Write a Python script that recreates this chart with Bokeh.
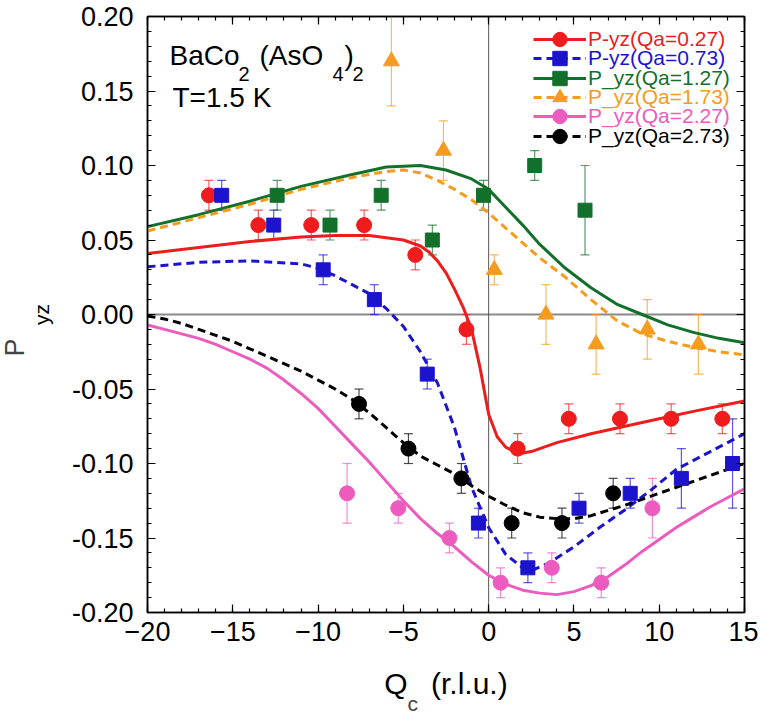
from bokeh.plotting import figure
from bokeh.models import (ColumnDataSource, Range1d, FixedTicker, NumeralTickFormatter,
                          LinearAxis, CustomJSTickFormatter, Span, Whisker, TeeHead,
                          Legend, LegendItem, Label, Title)
from bokeh.embed import file_html
from bokeh.resources import INLINE

FONT = "Liberation Sans"

# ---------------- data ----------------
# measured points (Qc, P_yz, error)
q027_x = [-16.4, -13.5, -10.4, -7.3, -4.3, -1.3, 1.7, 4.7, 7.7, 10.7, 13.7]
q027_y = [0.08, 0.06, 0.06, 0.06, 0.04, -0.01, -0.09, -0.07, -0.07, -0.07, -0.07]
q027_e = [0.01] * 11

q073_x = [-15.65, -12.6, -9.7, -6.7, -3.6, -0.6, 2.3, 5.3, 8.3, 11.3, 14.3]
q073_y = [0.08, 0.06, 0.03, 0.01, -0.04, -0.14, -0.17, -0.13, -0.12, -0.11, -0.10]
q073_e = [0.01, 0.01, 0.01, 0.01, 0.01, 0.01, 0.01, 0.01, 0.01, 0.02, 0.03]

q127_x = [-12.4, -9.3, -6.3, -3.3, -0.3, 2.7, 5.65]
q127_y = [0.08, 0.06, 0.08, 0.05, 0.08, 0.10, 0.07]
q127_e = [0.01, 0.01, 0.01, 0.01, 0.01, 0.01, 0.03]

q173_x = [-5.7, -2.65, 0.33, 3.36, 6.3, 9.3, 12.3]
q173_y = [0.17, 0.11, 0.03, 0.00, -0.02, -0.01, -0.02]
q173_e = [0.03, 0.02, 0.01, 0.02, 0.02, 0.02, 0.02]

q227_x = [-8.3, -5.3, -2.3, 0.7, 3.7, 6.6, 9.6]
q227_y = [-0.12, -0.13, -0.15, -0.18, -0.17, -0.18, -0.13]
q227_e = [0.02, 0.01, 0.01, 0.01, 0.01, 0.01, 0.02]

q273_x = [-7.6, -4.7, -1.6, 1.35, 4.3, 7.3]
q273_y = [-0.06, -0.09, -0.11, -0.14, -0.14, -0.12]
q273_e = [0.01] * 6

# model curves
c027_x = [-20, -17, -14, -11, -9, -7, -5, -4, -3.5, -3, -2.5, -2, -1.5, -1, -0.5, 0, 0.5, 1, 1.5, 2, 2.5,
          3, 4, 6, 8, 10, 12, 15]
c027_y = [0.041, 0.045, 0.049, 0.052, 0.053, 0.053, 0.050, 0.046, 0.042, 0.036, 0.028, 0.017, 0.005, -0.010,
          -0.036, -0.067, -0.082, -0.089, -0.092, -0.093, -0.092, -0.090, -0.086, -0.080, -0.075, -0.070,
          -0.065, -0.058]

c073_x = [-20, -17, -14, -11, -10, -9, -8, -7, -6, -5, -4, -3, -2, -1, 0, 1, 2, 2.5, 3.5, 5, 6.5, 8, 9.5,
          11, 13, 15]
c073_y = [0.032, 0.035, 0.036, 0.034, 0.031, 0.026, 0.020, 0.014, 0.004, -0.008, -0.025, -0.046, -0.076,
          -0.116, -0.143, -0.161, -0.170, -0.172, -0.167, -0.156, -0.143, -0.131, -0.118, -0.104, -0.092, -0.080]

c127_x = [-20, -17, -14, -11, -8, -6, -4, -2.5, -1, 0, 1, 2, 3, 4.5, 6, 7.5, 9, 10.5, 12, 13.5, 15]
c127_y = [0.059, 0.067, 0.076, 0.086, 0.094, 0.099, 0.100, 0.097, 0.091, 0.084, 0.072, 0.060, 0.047, 0.031,
          0.018, 0.007, 0.000, -0.007, -0.012, -0.016, -0.019]

c173_x = [-20, -17, -14, -11, -8, -6, -5, -4, -3, -2, -1, 0, 1, 2, 3, 4.5, 6, 7.5, 9, 10.5, 12, 13.5, 15]
c173_y = [0.056, 0.065, 0.074, 0.084, 0.092, 0.096, 0.097, 0.095, 0.090, 0.084, 0.077, 0.068, 0.058, 0.048,
          0.038, 0.025, 0.010, -0.004, -0.013, -0.018, -0.022, -0.025, -0.027]

c227_x = [-20, -19, -18, -17, -16, -15, -14, -13, -12, -11, -10, -9, -8, -7, -6, -5, -4, -3, -2, -1, 0,
          1, 2, 3, 4, 5, 6, 7, 8, 9, 10, 11, 12, 13, 14, 15]
c227_y = [-0.007, -0.010, -0.013, -0.016, -0.020, -0.025, -0.030, -0.036, -0.044, -0.053, -0.063, -0.075,
          -0.087, -0.099, -0.112, -0.125, -0.137, -0.147, -0.156, -0.166, -0.175, -0.181, -0.185, -0.187,
          -0.188, -0.186, -0.182, -0.176, -0.168, -0.159, -0.151, -0.143, -0.136, -0.129, -0.123, -0.117]

c273_x = [-20, -19, -18, -17, -16, -15, -14, -13, -12, -11, -10, -9, -8, -7, -6, -5, -4, -3, -2, -1, 0,
          1, 2, 3, 4, 5, 6, 8, 10, 12, 15]
c273_y = [-0.001, -0.003, -0.006, -0.010, -0.014, -0.018, -0.023, -0.028, -0.033, -0.038, -0.044, -0.050,
          -0.057, -0.066, -0.076, -0.086, -0.095, -0.101, -0.107, -0.115, -0.122, -0.128, -0.133, -0.136,
          -0.137, -0.137, -0.135, -0.128, -0.120, -0.112, -0.100]

labels = ["P-yz(Qa=0.27)", "P-yz(Qa=0.73)", "P_yz(Qa=1.27)", "P_yz(Qa=1.73)", "P_yz(Qa=2.27)", "P_yz(Qa=2.73)"]
colors = ["#ee1c1c", "#1c14cc", "#13702b", "#f59c1e", "#ec5cbf", "#000000"]
markers = ["circle", "square", "square", "triangle", "circle", "circle"]
dashes = ["solid", "dashed", "solid", "dashed", "solid", "dashed"]

x_ticks = [-20, -15, -10, -5, 0, 5, 10, 15]
y_ticks = [-0.20, -0.15, -0.10, -0.05, 0.00, 0.05, 0.10, 0.15, 0.20]
x_minor = list(range(-20, 16))
y_minor = [round(-0.2 + 0.01 * i, 2) for i in range(41)]

series = [
    (q027_x, q027_y, q027_e, c027_x, c027_y),
    (q073_x, q073_y, q073_e, c073_x, c073_y),
    (q127_x, q127_y, q127_e, c127_x, c127_y),
    (q173_x, q173_y, q173_e, c173_x, c173_y),
    (q227_x, q227_y, q227_e, c227_x, c227_y),
    (q273_x, q273_y, q273_e, c273_x, c273_y),
]

# ---------------- figure ----------------
p = figure(width=758, height=714, output_backend="svg", toolbar_location=None,
           x_range=Range1d(-20, 15), y_range=Range1d(-0.2, 0.2),
           min_border_left=145, min_border_right=14, min_border_top=16, min_border_bottom=102)
p.xgrid.visible = False
p.ygrid.visible = False
p.outline_line_color = "black"
p.outline_line_width = 1.5
p.background_fill_color = "white"
p.border_fill_color = "white"

for ax in (p.xaxis[0], p.yaxis[0]):
    ax.major_tick_in = 8
    ax.major_tick_out = 0
    ax.minor_tick_in = 4
    ax.minor_tick_out = 0
    ax.axis_line_width = 1.5
    ax.major_tick_line_width = 1.2
    ax.minor_tick_line_width = 1.2
    ax.major_label_text_font = FONT
    ax.major_label_text_font_size = "27px"
    ax.major_label_text_color = "black"
    ax.axis_label_text_font = FONT
    ax.axis_label_text_font_style = "normal"
    ax.axis_label_text_color = "black"

p.xaxis[0].ticker = FixedTicker(ticks=x_ticks, minor_ticks=x_minor)
p.yaxis[0].ticker = FixedTicker(ticks=y_ticks, minor_ticks=y_minor)
p.yaxis[0].formatter = NumeralTickFormatter(format="0.00")
p.xaxis[0].major_label_standoff = 9
p.yaxis[0].major_label_standoff = 14

# x-axis label "Q   (r.l.u.)" + subscript "c" as a title underneath
p.xaxis[0].axis_label = "Q\u2002\u00a0(r.l.u.)"
p.xaxis[0].axis_label_text_font_size = "30px"
p.xaxis[0].axis_label_standoff = 23
p.add_layout(Title(text="c", align="left", offset=260, vertical_align="middle",
                   text_font=FONT, text_font_size="21px", text_font_style="normal",
                   standoff=-23), "below")

# y-axis label: subscript "yz" as the axis label, "P" as a title further out
p.yaxis[0].axis_label = "yz"
p.yaxis[0].axis_label_text_font_size = "21px"
p.yaxis[0].axis_label_standoff = 16
p.add_layout(Title(text="P", align="left", offset=256, vertical_align="bottom",
                   text_font=FONT, text_font_size="27px", text_font_style="normal",
                   standoff=-6), "left")

blank = CustomJSTickFormatter(code="return ''")
for side, tk in (("above", FixedTicker(ticks=x_ticks, minor_ticks=x_minor)),
                 ("right", FixedTicker(ticks=y_ticks, minor_ticks=y_minor))):
    ax = LinearAxis(ticker=tk, formatter=blank,
                    major_tick_in=8, major_tick_out=0, minor_tick_in=4, minor_tick_out=0,
                    major_label_standoff=0, major_label_text_font_size="1px",
                    axis_line_width=1.5, major_tick_line_width=1.2, minor_tick_line_width=1.2)
    p.add_layout(ax, side)

# zero lines
p.add_layout(Span(location=0, dimension="width", line_color="#8a8a8a", line_width=1.8, level="underlay"))
p.add_layout(Span(location=0, dimension="height", line_color="#555555", line_width=1.0, level="underlay"))

line_renderers = []
for (qx, qy, qe, cx, cy), col, dash in zip(series, colors, dashes):
    r = p.line(cx, cy, line_color=col, line_width=3, line_dash=("8 5" if dash == "dashed" else "solid"))
    line_renderers.append(r)

scatter_renderers = []
for (qx, qy, qe, cx, cy), col, mk in zip(series, colors, markers):
    src = ColumnDataSource(dict(x=qx, y=qy,
                                lo=[a - b for a, b in zip(qy, qe)],
                                hi=[a + b for a, b in zip(qy, qe)]))
    w = Whisker(source=src, base="x", lower="lo", upper="hi", dimension="height",
                line_color=col, line_width=1.2, line_alpha=0.7,
                upper_head=TeeHead(size=9, line_color=col, line_width=1.2, line_alpha=0.7),
                lower_head=TeeHead(size=9, line_color=col, line_width=1.2, line_alpha=0.7))
    p.add_layout(w)
    size = 16 if mk == "triangle" else (15 if mk == "circle" else 14)
    s = p.scatter("x", "y", source=src, marker=mk, size=size, fill_color=col, line_color=col)
    scatter_renderers.append(s)

# legends (one per entry so each label keeps its own colour)
for i, (lab, col) in enumerate(zip(labels, colors)):
    row_top = 5 + 19.3 * i              # px below the frame top
    vy = 596 - row_top - 36             # legend bottom, from frame bottom
    leg = Legend(items=[LegendItem(label=lab, renderers=[line_renderers[i], scatter_renderers[i]])],
                 location=(386, vy), glyph_width=53, glyph_height=36, label_height=36,
                 padding=0, margin=0, spacing=0, label_standoff=2,
                 background_fill_alpha=0, border_line_alpha=0,
                 label_text_font=FONT, label_text_font_size="21px", label_text_color=col)
    p.add_layout(leg)


def lab(text, dx, dy, size):
    p.add_layout(Label(x=-20, y=0.2, x_offset=dx, y_offset=dy, text=text, text_font=FONT,
                       text_font_size=size, text_color="black", text_baseline="alphabetic"))


lab("BaCo", 22, -39, "28px")
lab("2", 91, -57, "20px")
lab("(AsO", 112, -39, "28px")
lab("4", 185, -57, "20px")
lab(")", 197, -39, "28px")
lab("2", 205, -57, "20px")
lab("T=1.5 K", 25, -81, "28px")

open("out.html", "w").write(file_html(p, INLINE))
